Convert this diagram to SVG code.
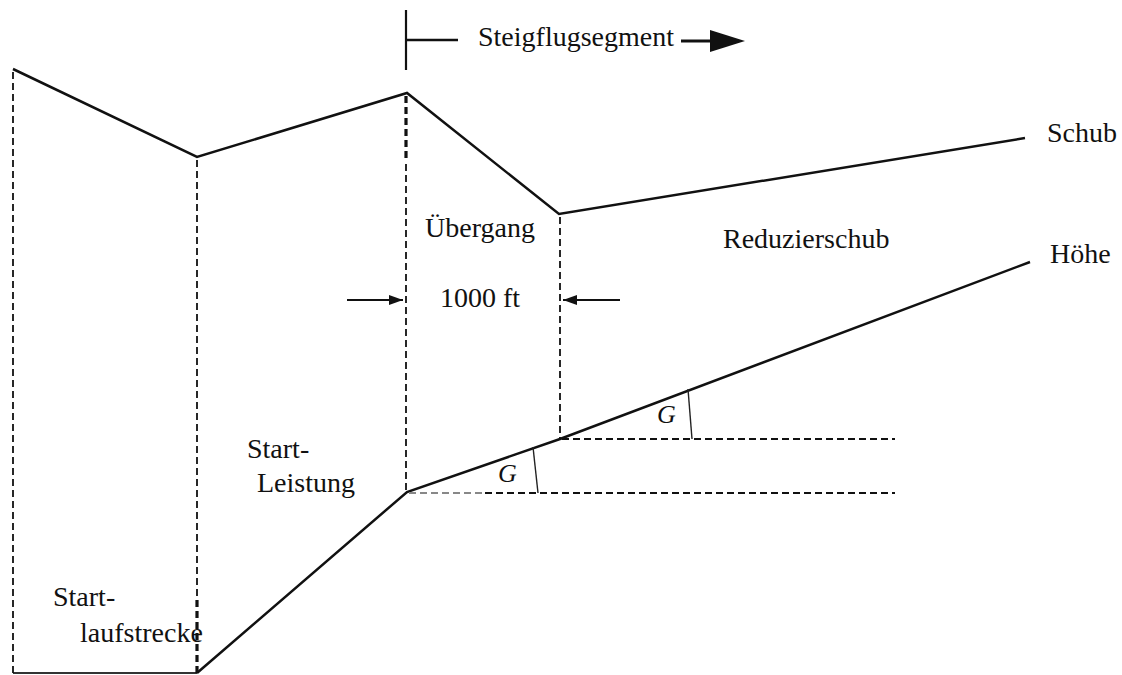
<svg xmlns="http://www.w3.org/2000/svg" width="1122" height="675" viewBox="0 0 1122 675">
<defs>
<style>
.solid{fill:none;stroke:#111;stroke-width:2.5;stroke-linejoin:miter}
.dash{fill:none;stroke:#111;stroke-width:1.8;stroke-dasharray:7 4}
.dashb{fill:none;stroke:#111;stroke-width:3.2;stroke-dasharray:7 4}
.thin{fill:none;stroke:#222;stroke-width:1.4}
.lbl{font-family:"Liberation Serif","Times New Roman",serif;font-size:28px;fill:#111}
.g{font-family:"Liberation Serif","Times New Roman",serif;font-size:26px;font-style:italic;fill:#111}
</style>
<marker id="ah" viewBox="0 0 14 10" refX="14" refY="5" markerWidth="14" markerHeight="10" markerUnits="userSpaceOnUse" orient="auto">
<path d="M0,0 L14,5 L0,10 Z" fill="#111"/>
</marker>
</defs>
<rect width="1122" height="675" fill="#fff"/>
<g id="connectors">
<polyline class="solid" points="13,69 197,157 407,93 559,214 1025,138"/>
<polyline class="solid" points="197,673 407,492 560,439 1030,262"/>
<line x1="13" y1="673" x2="197" y2="673" stroke="#333" stroke-width="2.2"/>
<line class="dash" x1="13" y1="72" x2="13" y2="673"/>
<line class="dash" x1="197" y1="160" x2="197" y2="600"/>
<line class="dashb" x1="197" y1="600" x2="197" y2="673"/>
<line class="dashb" x1="406" y1="96" x2="406" y2="160"/>
<line class="dash" x1="406" y1="164" x2="406" y2="492"/>
<line class="dash" x1="560" y1="217" x2="560" y2="439"/>
<line x1="409" y1="493" x2="485" y2="493" stroke="#888" stroke-width="1.8" stroke-dasharray="7 4"/>
<line class="dash" x1="485" y1="493" x2="895" y2="493"/>
<line class="dash" x1="562" y1="439" x2="895" y2="439"/>
<line class="thin" x1="533" y1="447" x2="538" y2="493"/>
<line class="thin" x1="688" y1="389" x2="692" y2="439"/>
<line x1="347" y1="300" x2="403" y2="300" stroke="#111" stroke-width="1.8" marker-end="url(#ah)"/>
<line x1="620" y1="300" x2="563" y2="300" stroke="#111" stroke-width="1.8" marker-end="url(#ah)"/>
<line x1="406" y1="10" x2="406" y2="70" stroke="#111" stroke-width="2.2"/>
<line x1="406" y1="40" x2="458" y2="40" stroke="#111" stroke-width="2.4"/>
<line x1="681" y1="41" x2="712" y2="41" stroke="#111" stroke-width="3"/>
<path d="M710,30 L745,41 L710,52 Z" fill="#111"/>
</g>
<g id="steigflugsegment"><text class="lbl" x="478" y="46">Steigflugsegment</text></g>
<g id="uebergang"><text class="lbl" x="425" y="237">Übergang</text></g>
<g id="ft"><text class="lbl" x="440" y="307">1000 ft</text></g>
<g id="reduzierschub"><text class="lbl" x="723" y="248">Reduzierschub</text></g>
<g id="schub"><text class="lbl" x="1047" y="142">Schub</text></g>
<g id="hoehe"><text class="lbl" x="1050" y="263">Höhe</text></g>
<g id="startleistung"><text class="lbl" x="247" y="458">Start-</text><text class="lbl" x="257" y="492">Leistung</text></g>
<g id="startlaufstrecke"><text class="lbl" x="53" y="606">Start-</text><text class="lbl" x="80" y="642">laufstrecke</text></g>
<g id="g1"><text class="g" x="498" y="482">G</text></g>
<g id="g2"><text class="g" x="657" y="423">G</text></g>
</svg>
